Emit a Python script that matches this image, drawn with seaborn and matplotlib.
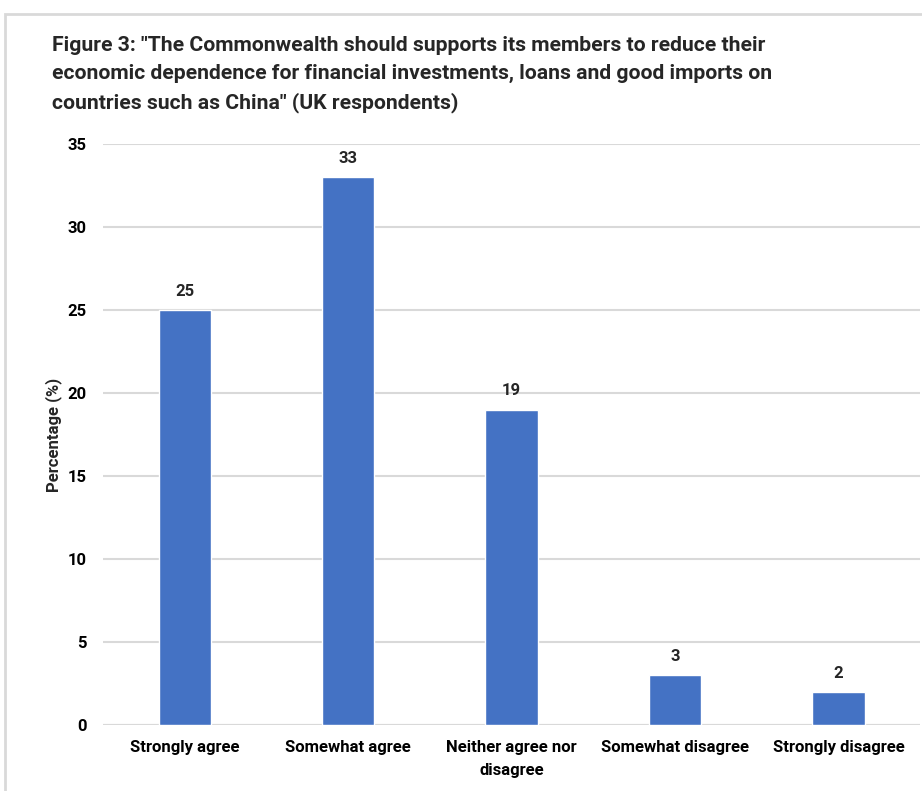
import matplotlib
matplotlib.use("Agg")
import matplotlib.pyplot as plt
import seaborn as sns
import pandas as pd
from matplotlib.patches import Rectangle

categories = ["Strongly agree", "Somewhat agree", "Neither agree nor\ndisagree",
              "Somewhat disagree", "Strongly disagree"]
values = [25, 33, 19, 3, 2]
yticks = [0, 5, 10, 15, 20, 25, 30, 35]
title = ('Figure 3: "The Commonwealth should supports its members to reduce their\n'
         'economic dependence for financial investments, loans and good imports on\n'
         'countries such as China" (UK respondents)')

sns.set_theme(style="white")
plt.rcParams['font.family'] = ["Roboto", "DejaVu Sans"]

df = pd.DataFrame({"cat": categories, "val": values})

fig = plt.figure(figsize=(9.22, 7.91), dpi=100)
ax = fig.add_axes([0.1117, 0.0834, 0.8863, 0.7346])
sns.barplot(data=df, x="cat", y="val", color="#4472C4", width=0.32, ax=ax,
            saturation=1)

ax.set_ylim(0, 35)
ax.set_yticks(yticks)
ax.set_xlim(-0.5, 4.5)
ax.yaxis.grid(True, color="#d9d9d9", linewidth=1.5)
ax.set_axisbelow(True)
for s in ax.spines.values():
    s.set_visible(False)
ax.axhline(0, color="#d9d9d9", linewidth=1.5, zorder=0.5)
ax.tick_params(axis="both", length=0, labelsize=12, colors="black")
for lab in ax.get_xticklabels() + ax.get_yticklabels():
    lab.set_fontweight("bold")
for lab in ax.get_xticklabels():
    lab.set_linespacing(1.6)
ax.tick_params(axis="y", pad=12)
ax.tick_params(axis="x", pad=11)
ax.set_xlabel("")
ax.set_ylabel("Percentage (%)", fontsize=12, fontweight="bold", labelpad=4)

for i, v in enumerate(values):
    ax.annotate(str(v), (i, v), xytext=(0, 8), textcoords="offset points",
                ha="center", va="bottom", fontsize=12, fontweight="bold")

fig.text(52 / 922, 1 - 36 / 791, title, ha="left", va="top", fontsize=15.2,
         fontweight="bold", linespacing=1.6)

fig.patches.append(Rectangle((5 / 922, -0.1), 1.2, 1 - 14 / 791 + 0.1,
                             transform=fig.transFigure, fill=False,
                             edgecolor="#d9d9d9", linewidth=2, zorder=-1))

fig.savefig("out.png", dpi=100)
